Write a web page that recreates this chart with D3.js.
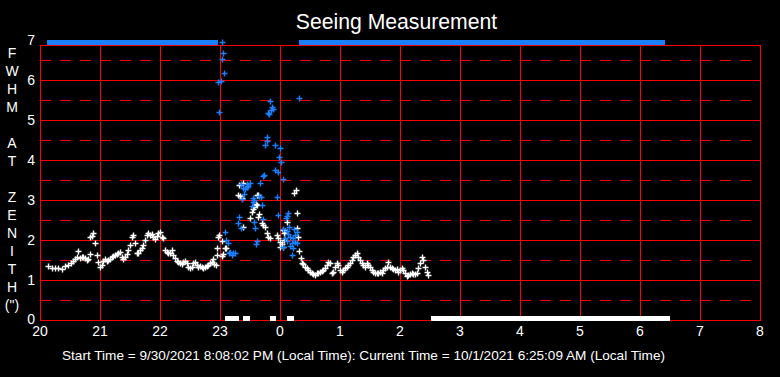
<!DOCTYPE html>
<html><head><meta charset="utf-8">
<script src="https://cdn.jsdelivr.net/npm/d3@7"></script>
<style>html,body{margin:0;padding:0;background:#000;}svg{display:block;}</style>
</head><body>
<svg id="c" width="780" height="377"></svg>
<script>
// ---- data (time = minutes after 20:00 local, value = FWHM at zenith in arcsec)
const xTickMinutes = [0,60,120,180,240,300,360,420,480,540,600,660,720];
const xTickLabels = ["20","21","22","23","0","1","2","3","4","5","6","7","8"];
const yTickValues = [0,1,2,3,4,5,6,7];
const yTitleLetters = ["F","W","H","M","","A","T","","Z","E","N","I","T","H","(\")"];
const titleText = "Seeing Measurement";
const footerText = "Start Time = 9/30/2021 8:08:02 PM (Local Time): Current Time = 10/1/2021 6:25:09 AM (Local Time)";

// white series
const whitePoints = [
[8,1.35],[12,1.29],[15,1.29],[18,1.31],[22,1.28],[25,1.35],[28,1.37],[31,1.42],[33,1.48],[35,1.53],[37,1.58],[38,1.73],
[40,1.54],[42,1.58],[43,1.57],[45,1.54],[47,1.50],[48,1.52],[50,1.64],[50,2.07],[52,2.10],[53,2.17],[55,1.92],[57,1.63],
[58,1.46],[60,1.33],[62,1.38],[63,1.48],[65,1.52],[67,1.48],[68,1.50],[70,1.52],[72,1.57],[73,1.60],[75,1.63],[77,1.64],
[78,1.68],[80,1.71],[82,1.57],[83,1.52],[85,1.58],[87,1.65],[88,1.75],[90,1.88],[92,2.08],[93,2.13],[95,1.93],[97,1.67],
[98,1.68],[100,1.75],[102,1.79],[103,1.88],[105,2.00],[107,2.13],[108,2.17],[110,2.13],[112,2.14],[113,2.08],[115,2.02],
[117,2.10],[118,2.17],[120,2.21],[122,2.08],[123,2.04],[125,1.75],[127,1.71],[128,1.67],[130,1.68],[132,1.75],[133,1.63],
[135,1.54],[137,1.48],[138,1.46],[140,1.42],[142,1.39],[143,1.46],[145,1.48],[147,1.42],[148,1.33],[150,1.29],[152,1.33],
[153,1.42],[155,1.44],[157,1.38],[158,1.33],[160,1.35],[162,1.32],[163,1.29],[165,1.33],[167,1.35],[168,1.38],[170,1.42],
[172,1.46],[173,1.52],[174,1.40],[176,1.38],[177,1.63],[177,1.79],[178,2.08],[179,2.13],[182,1.98],[182,1.60],[183,1.64],
[185,1.79],[186,1.81],
[199,3.38],[203,3.43],[198,3.13],[202,3.04],[200,3.11],[217,3.13],[218,3.13],[216,2.90],[214,2.83],[213,2.77],[212,2.71],
[217,2.88],[219,2.64],[218,2.58],[210,2.54],[222,2.43],[223,2.38],[225,2.33],[203,2.33],[227,2.17],[228,2.08],[230,2.04],
[237,2.13],[238,2.04],[240,1.96],[244,2.00],[242,1.90],[240,1.83],[243,1.83],[243,2.25],[245,2.23],[244,2.18],[247,2.46],
[256,3.25],[254,3.18],[257,2.67],[257,2.29],[259,1.73],[258,2.08],[261,1.54],
[262,1.42],[263,1.40],[265,1.33],[267,1.29],[268,1.25],[270,1.21],[272,1.18],[273,1.15],[275,1.13],[277,1.17],[278,1.18],
[280,1.21],[282,1.23],[283,1.25],[285,1.29],[287,1.38],[288,1.46],[290,1.42],[292,1.17],[293,1.21],[295,1.33],[297,1.42],
[298,1.38],[300,1.25],[302,1.21],[303,1.25],[305,1.29],[307,1.33],[308,1.38],[310,1.42],[312,1.50],[313,1.58],[315,1.63],
[317,1.67],[318,1.58],[320,1.50],[322,1.42],[323,1.38],[325,1.33],[327,1.42],[328,1.38],[330,1.33],[332,1.25],[333,1.21],
[335,1.18],[337,1.17],[338,1.17],[340,1.21],[342,1.18],[343,1.25],[345,1.29],[347,1.33],[348,1.46],[350,1.33],[352,1.29],
[353,1.27],[355,1.25],[357,1.27],[358,1.21],[360,1.25],[362,1.29],[363,1.25],[365,1.17],[367,1.10],[368,1.13],[370,1.15],
[372,1.17],[373,1.15],[375,1.14],[377,1.17],[378,1.29],[380,1.42],[382,1.57],[383,1.50],[385,1.33],[387,1.21],[388,1.13]
];

// blue series
const bluePoints = [
[182,6.95],[183,6.67],[182,6.52],[184,6.17],[178,5.96],[181,5.98],[179,5.21],[230,5.48],[259,5.54],[232,5.33],[233,5.28],
[231,5.25],[228,5.17],[229,5.14],[227,4.57],[227,4.48],[225,4.37],[235,4.37],[240,4.29],[239,4.08],[241,3.94],[235,3.74],
[238,3.71],[224,3.63],[223,3.61],[243,3.52],[220,3.42],[207,3.40],[210,3.42],[208,3.35],[205,3.27],[207,3.32],[203,3.30],
[201,3.39],[204,3.14],[202,3.02],[213,3.04],[213,2.96],[214,3.00],[219,3.10],[221,3.08],[237,3.07],[212,2.84],[222,2.88],
[248,2.68],[247,2.60],[246,2.54],[238,2.63],[199,2.57],[223,2.52],[214,2.46],[198,2.43],[201,2.29],[215,2.30],[249,2.33],
[247,2.23],[257,2.21],[254,2.28],[243,2.27],[185,2.21],[186,1.99],[188,1.93],[217,1.98],[216,1.90],[253,2.04],[255,2.13],
[250,2.08],[248,2.15],[245,2.04],[247,1.98],[252,1.92],[255,1.96],[257,1.92],[243,1.83],[250,1.85],[253,1.79],[190,1.71],
[193,1.68],[195,1.67],[192,1.63],[189,1.67],[252,1.63]
];

// runs of readings off the top (blue) and at zero (white): [start, end] minutes
const blueTopRuns = [[7,178],[259,625]];
const whiteZeroRuns = [[185,199],[203,210],[230,236],[247,254],[391,630]];

// ---- chart
const svg = d3.select("#c");
const W = 780, H = 377;
const x = d3.scaleLinear().domain([0,720]).range([40,760]);
const y = d3.scaleLinear().domain([0,7]).range([320,40]);
const yFrameTop = 6.875;
const red = "#ff0000", blue = "#1a80ff", textCol = "#ffffff";
const font = "'Liberation Sans', Arial, sans-serif";

svg.append("rect").attr("width",W).attr("height",H).attr("fill","#000");

const g = svg.append("g").attr("shape-rendering","crispEdges");
// dashed half-value lines
const halfVals = d3.range(0.5,7,1);
g.selectAll(".dash").data(halfVals).join("line")
  .attr("x1",x(0)).attr("x2",x(720))
  .attr("y1",d=>Math.round(y(d))+0.5).attr("y2",d=>Math.round(y(d))+0.5)
  .attr("stroke",red).attr("stroke-width",1).attr("stroke-dasharray","11,9");
// solid integer lines
g.selectAll(".hgrid").data(yTickValues.filter(v=>v>0 && v<yFrameTop)).join("line")
  .attr("x1",x(0)).attr("x2",x(720))
  .attr("y1",d=>Math.round(y(d))+0.5).attr("y2",d=>Math.round(y(d))+0.5)
  .attr("stroke",red).attr("stroke-width",1);
// vertical hour lines
g.selectAll(".vgrid").data(xTickMinutes.slice(1,-1)).join("line")
  .attr("x1",d=>Math.round(x(d))+0.5).attr("x2",d=>Math.round(x(d))+0.5)
  .attr("y1",y(yFrameTop)).attr("y2",y(0))
  .attr("stroke",red).attr("stroke-width",1);
// frame
g.append("rect")
  .attr("x",x(0)+0.5).attr("y",Math.round(y(yFrameTop))+0.5)
  .attr("width",x(720)-x(0)).attr("height",y(0)-Math.round(y(yFrameTop)))
  .attr("fill","none").attr("stroke",red).attr("stroke-width",1);

// y tick labels
svg.selectAll(".ylab").data(yTickValues).join("text")
  .attr("x",35).attr("y",d=>y(d)-(d===0?1:0)).attr("dy","0.36em")
  .attr("text-anchor","end").attr("fill",textCol)
  .attr("font-family",font).attr("font-size",14).text(d=>d);
// x tick labels
svg.selectAll(".xlab").data(xTickMinutes).join("text")
  .attr("x",d=>x(d)).attr("y",331).attr("dy","0.36em")
  .attr("text-anchor","middle").attr("fill",textCol)
  .attr("font-family",font).attr("font-size",14).text((d,i)=>xTickLabels[i]);

// y title (vertical letters)
svg.selectAll(".ytitle").data(yTitleLetters).join("text")
  .attr("x",12).attr("y",(d,i)=>53+i*18).attr("dy","0.36em")
  .attr("text-anchor","middle").attr("fill",textCol)
  .attr("font-family",font).attr("font-size",14).text(d=>d);

// title
svg.append("text").attr("x",396.5).attr("y",29)
  .attr("text-anchor","middle").attr("fill",textCol)
  .attr("font-family",font).attr("font-size",21.2).text(titleText);
// footer
svg.append("text").attr("x",62).attr("y",355).attr("dy","0.36em")
  .attr("fill",textCol).attr("font-family",font).attr("font-size",13.6).text(footerText);

// markers
const plus = "M-3,0H3M0,-3V3";
const pg = svg.append("g");
pg.selectAll(".wp").data(whitePoints).join("path")
  .attr("d",plus).attr("transform",d=>`translate(${Math.round(x(d[0]))+0.5},${Math.round(y(d[1]))+0.5})`)
  .attr("stroke","#fff").attr("stroke-width",1.4).attr("fill","none");
pg.selectAll(".bp").data(bluePoints).join("path")
  .attr("d",plus).attr("transform",d=>`translate(${Math.round(x(d[0]))+0.5},${Math.round(y(d[1]))+0.5})`)
  .attr("stroke",blue).attr("stroke-width",1.4).attr("fill","none");

// runs
pg.selectAll(".br").data(blueTopRuns).join("rect")
  .attr("x",d=>x(d[0])).attr("width",d=>x(d[1])-x(d[0]))
  .attr("y",y(7)).attr("height",y(yFrameTop)-y(7))
  .attr("fill",blue);
pg.selectAll(".wr").data(whiteZeroRuns).join("rect")
  .attr("x",d=>x(d[0])).attr("width",d=>x(d[1])-x(d[0]))
  .attr("y",y(0)-4).attr("height",5)
  .attr("fill","#fff");
</script>
</body></html>
